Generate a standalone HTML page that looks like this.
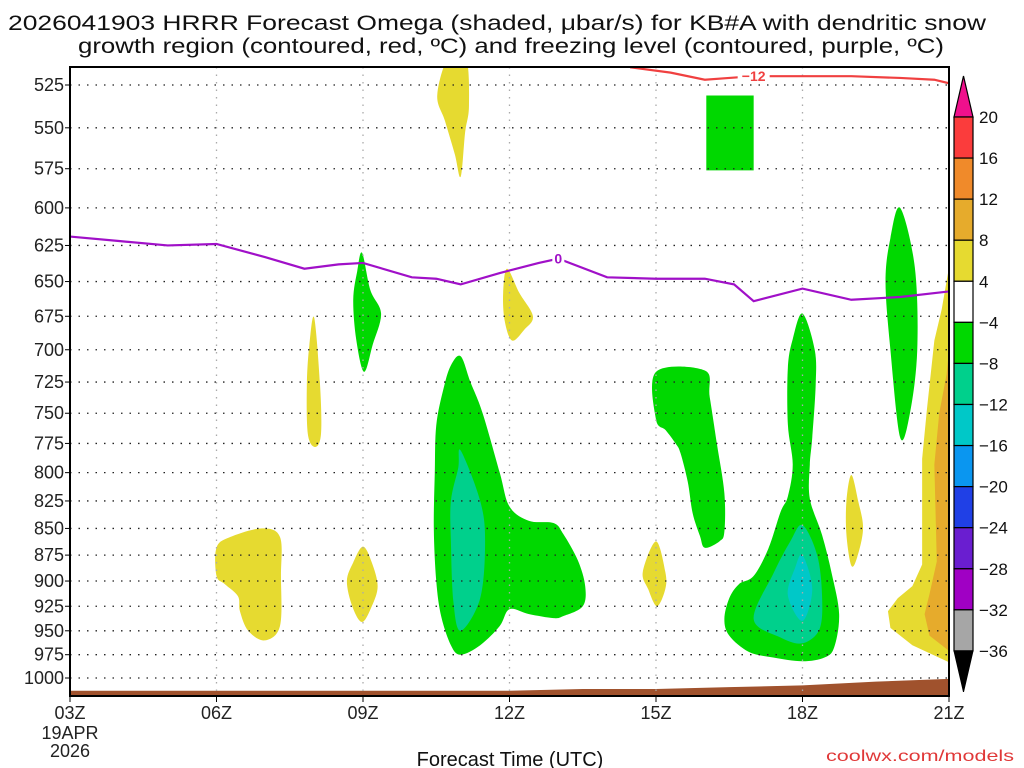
<!DOCTYPE html>
<html><head><meta charset="utf-8"><style>
html,body{margin:0;padding:0;background:#fff;}
svg{display:block;font-family:"Liberation Sans",sans-serif;}
</style></head><body>
<svg id="chart" width="1024" height="768" viewBox="0 0 1024 768" xmlns="http://www.w3.org/2000/svg">
<defs><clipPath id="plotclip"><rect x="70" y="67" width="879" height="629"/></clipPath></defs>
<text x="8" y="30" font-size="21" textLength="978" lengthAdjust="spacingAndGlyphs" fill="#111">2026041903 HRRR Forecast Omega (shaded, μbar/s) for KB#A with dendritic snow</text>
<text x="78" y="53" font-size="21" textLength="866" lengthAdjust="spacingAndGlyphs" fill="#111">growth region (contoured, red, ºC) and freezing level (contoured, purple, ºC)</text>
<g id="fills" clip-path="url(#plotclip)"></g>
<g id="grid"></g>
<g id="lines" clip-path="url(#plotclip)"></g>
<g id="axes"></g>
<g id="cbar"></g>
<text x="510" y="766" font-size="20" text-anchor="middle" fill="#111">Forecast Time (UTC)</text>
<text x="1014" y="761" font-size="16" text-anchor="end" fill="#e03838" textLength="188" lengthAdjust="spacingAndGlyphs">coolwx.com/models</text>
</svg>
<script>
const pTicks=[525,550,575,600,625,650,675,700,725,750,775,800,825,850,875,900,925,950,975,1000];
const hTicks=[0,3,6,9,12,15,18];
const hLabels=["03Z","06Z","09Z","12Z","15Z","18Z","21Z"];
const cbLevels=[20,16,12,8,4,-4,-8,-12,-16,-20,-24,-28,-32,-36];
const cbColors=["#fb3c3c","#f08a2a","#e6ab2c","#e6da30","#ffffff","#00d800","#00d08c","#00c8c8","#0a96f0","#2040e6","#6a1ed0","#a000c4","#a6a6a6"];
const frzHours=[0,1,2,3,4,4.8,5.5,6,7,7.5,8,8.8,9.6,10,11,12,13,13.6,14,15,16,17,18];
const frzP=[619,622,625,624,633,641,638,637,647,648,652,644,637,634,647,648,648,652,664,655,663,661,657];
const dgzHours=[11.47,12.3,13,13.5,14,15,16,17,17.7,18];
const dgzP=[515,518,522,521,520,520,520,521,522,524];
const sfcHours=[0,3,6,9,10.5,12,13.5,15,16.5,18];
const sfcP=[1014,1014,1014,1014,1012,1012,1010,1008,1004,1001];
// omega fill regions: [colorIndex, hours[], pressures[], smooth]
const regions=[
 [5,[8.0,8.2,8.45,8.8,9.0,9.4,9.9,10.1,10.4,10.55,10.5,10.1,9.9,9.4,9.0,8.8,8.4,8.0,7.8,7.6,7.5,7.45,7.47,7.5,7.65,7.8],
    [705,725,750,800,830,843,845,855,880,905,925,935,937,933,928,945,965,975,965,935,900,850,800,760,730,712],true],
 [6,[8.0,8.4,8.5,8.4,8.0,7.85,7.8,7.8,7.95],[781,825,862,917,950,920,862,825,796],true],
 [5,[12.0,13.0,13.1,13.25,13.4,13.4,13.3,13.0,12.9,12.75,12.65,12.5,12.4,12.2,12.0],[717,716,737,776,818,853,862,868,857,836,808,783,775,764,755],true],
 [5,[15.0,15.25,15.27,15.2,15.15,15.15,15.4,15.6,15.75,15.65,15.45,15.0,14.4,13.9,13.5,13.4,13.5,13.7,14.0,14.3,14.55,14.7,14.8,14.7,14.7,14.8],
    [673,700,727,770,793,823,856,893,933,967,978,982,978,972,955,938,917,903,895,869,835,821,793,759,714,692],true],
 [6,[15.0,15.3,15.4,15.35,15.0,14.55,14.0,14.4,14.75],[847,875,914,948,963,957,938,893,862],true],
 [7,[15.0,15.2,15.0,14.7,14.85],[875,908,940,914,887],true],
 [5,[17.0,17.3,17.35,17.2,17.0,16.8,16.7,16.8],[600,640,700,750,770,700,650,620],true],
 [5,[5.98,6.15,6.37,6.2,6.02,5.86,5.8,5.88],[630,656,673,696,717,692,663,643],true],
 [5,[13.03,14.0,14.0,13.03],[531,531,576,576],false],
 [3,[7.74,8.11,8.17,8.09,8.0,7.88,7.68,7.52],[510,510,537,553,580,566,546,531],true],
 [3,[5.0,5.12,5.14,5.02,4.87,4.85,4.9],[676,727,767,778,767,727,697],true],
 [3,[8.95,9.2,9.48,9.3,9.05,8.9,8.87],[641,658,675,685,693,678,658],true],
 [3,[3,3.28,3.93,4.3,4.32,4.3,3.99,3.65,3.48,3.44,3.17,3],[868,858,850,858,895,945,960,950,930,915,903,895],true],
 [3,[6,6.18,6.3,6.18,5.98,5.78,5.67,5.8],[867,882,905,925,941,925,900,882],true],
 [3,[12,12.19,12.19,12.02,11.84,11.73],[862,891,908,925,908,891],true],
 [3,[16.0,16.14,16.24,16.12,16.0,15.9,15.9],[802,825,850,877,885,856,825],true]
];
const rightYellowH=[17.85,17.7,17.55,17.45,17.45,17.25,16.95,16.75,16.8,17.25,18.0,18.0];
const rightYellowP=[670,693,746,788,884,905,917,930,947,965,983,640];
const rightGoldH=[17.95,17.8,17.7,17.75,17.6,17.5,17.6,18.0,18.0];
const rightGoldP=[719,750,793,881,913,933,955,971,700];

const X0=70,X1=949,HSPAN=18;
const xS=h=>X0+(X1-X0)*h/HSPAN;
const yS=p=>85+593*Math.log(p/525)/Math.log(1000/525);
const NS="http://www.w3.org/2000/svg";
function mk(tag,parent,attrs){const e=document.createElementNS(NS,tag);for(const k in attrs)e.setAttribute(k,attrs[k]);parent.appendChild(e);return e;}
const fills=document.getElementById('fills'),grid=document.getElementById('grid'),lines=document.getElementById('lines'),axes=document.getElementById('axes'),cbar=document.getElementById('cbar');
function smoothPath(hs,ps){const pts=hs.map((h,i)=>[xS(h),yS(ps[i])]);const n=pts.length;let d=`M${pts[0][0]},${pts[0][1]}`;
 for(let i=0;i<n;i++){const p0=pts[(i-1+n)%n],p1=pts[i],p2=pts[(i+1)%n],p3=pts[(i+2)%n];
  const c1=[p1[0]+(p2[0]-p0[0])/6,p1[1]+(p2[1]-p0[1])/6],c2=[p2[0]-(p3[0]-p1[0])/6,p2[1]-(p3[1]-p1[1])/6];
  d+=`C${c1[0]},${c1[1]} ${c2[0]},${c2[1]} ${p2[0]},${p2[1]}`;}return d+'Z';}
function polyPath(hs,ps){return 'M'+hs.map((h,i)=>xS(h)+','+yS(ps[i])).join('L')+'Z';}
let e=mk('path',fills,{d:polyPath(rightYellowH,rightYellowP),fill:cbColors[3]});


e=mk('path',fills,{d:polyPath(rightGoldH,rightGoldP),fill:cbColors[2]});


regions.forEach((r)=>{
 const el=mk('path',fills,{d:r[3]?smoothPath(r[1],r[2]):polyPath(r[1],r[2]),fill:cbColors[r[0]]});
 
 });
{let d='M'+xS(0)+',696';sfcHours.forEach((h,i)=>{d+='L'+xS(h)+','+yS(sfcP[i]);});d+='L'+xS(18)+',696Z';
 const t=mk('path',fills,{d:d,fill:'#a0522d'});
 
 }
pTicks.forEach(p=>{const y=yS(p);
 const g=mk('line',grid,{x1:X0,x2:X1,y1:y,y2:y,stroke:'#222','stroke-width':1.3,'stroke-dasharray':'1.5 7'});
 
 
 const tk=mk('line',axes,{x1:X0-5,x2:X0,y1:y,y2:y,stroke:'#000'});
 
 
 const tx=mk('text',axes,{x:X0-6,y:y+6,'font-size':18,'text-anchor':'end',fill:'#222'});tx.textContent=p;
 
 });
hTicks.forEach((h,i)=>{const x=xS(h);
 if(i>0&&i<hTicks.length-1){const g=mk('line',grid,{x1:x,x2:x,y1:67,y2:696,stroke:'#aaa','stroke-width':1.3,'stroke-dasharray':'1.5 6'});
 
 }
 const tk=mk('line',axes,{x1:x,x2:x,y1:696,y2:702,stroke:'#000'});
 
 
 const tx=mk('text',axes,{x:x,y:719,'font-size':18,'text-anchor':'middle',fill:'#222'});tx.textContent=hLabels[i];
 
 });
{const a=mk('text',axes,{x:X0,y:739,'font-size':18,'text-anchor':'middle',fill:'#222'});a.textContent='19APR';
 
 
 const b=mk('text',axes,{x:X0,y:757,'font-size':18,'text-anchor':'middle',fill:'#222'});b.textContent='2026';
 
 }
{const d='M'+frzHours.map((h,i)=>xS(h)+','+yS(frzP[i])).join('L');
 const l=mk('path',lines,{d:d,fill:'none',stroke:'#a010c8','stroke-width':2.2});
 
 
 const bg=mk('rect',lines,{x:xS(10)-6,y:yS(634)-10,width:12,height:15,fill:'#fff'});
 
 
 const t=mk('text',lines,{x:xS(10),y:yS(634)+5,'font-size':14,'font-weight':'bold','text-anchor':'middle',fill:'#a010c8'});t.textContent='0';
 
 
 const d2='M'+dgzHours.map((h,i)=>xS(h)+','+yS(dgzP[i])).join('L');
 const l2=mk('path',lines,{d:d2,fill:'none',stroke:'#f04040','stroke-width':2.2});
 
 
 const bg2=mk('rect',lines,{x:xS(14)-16,y:yS(520)-10,width:32,height:14,fill:'#fff'});
 
 
 const t2=mk('text',lines,{x:xS(14),y:yS(520)+5,'font-size':14,'font-weight':'bold','text-anchor':'middle',fill:'#f04040'});t2.textContent='−12';
 
 }
{const f=mk('rect',axes,{x:X0,y:67,width:X1-X0,height:629,fill:'none',stroke:'#000','stroke-width':2});
 
 }
const CBX=954,CBW=19,CBTOP=117,CBSTEP=41.07;
{const tri=mk('polygon',cbar,{points:`${CBX},${CBTOP} ${CBX+CBW},${CBTOP} ${CBX+CBW/2},76`,fill:'#f0108c',stroke:'#000','stroke-width':1.2});
 
 }
cbColors.forEach((c,i)=>{const r=mk('rect',cbar,{x:CBX,y:CBTOP+i*CBSTEP,width:CBW,height:CBSTEP,fill:c,stroke:'#000','stroke-width':1.2});
 
 });
{const yb=CBTOP+cbColors.length*CBSTEP;
 const tri=mk('polygon',cbar,{points:`${CBX},${yb} ${CBX+CBW},${yb} ${CBX+CBW/2},${yb+41}`,fill:'#000',stroke:'#000'});
 
 }
cbLevels.forEach((v,i)=>{const t=mk('text',cbar,{x:979,y:CBTOP+i*CBSTEP+6,'font-size':17,fill:'#111'});
 t.textContent=v<0?'−'+(-v):String(v);
 
 });
</script>
</body></html>
